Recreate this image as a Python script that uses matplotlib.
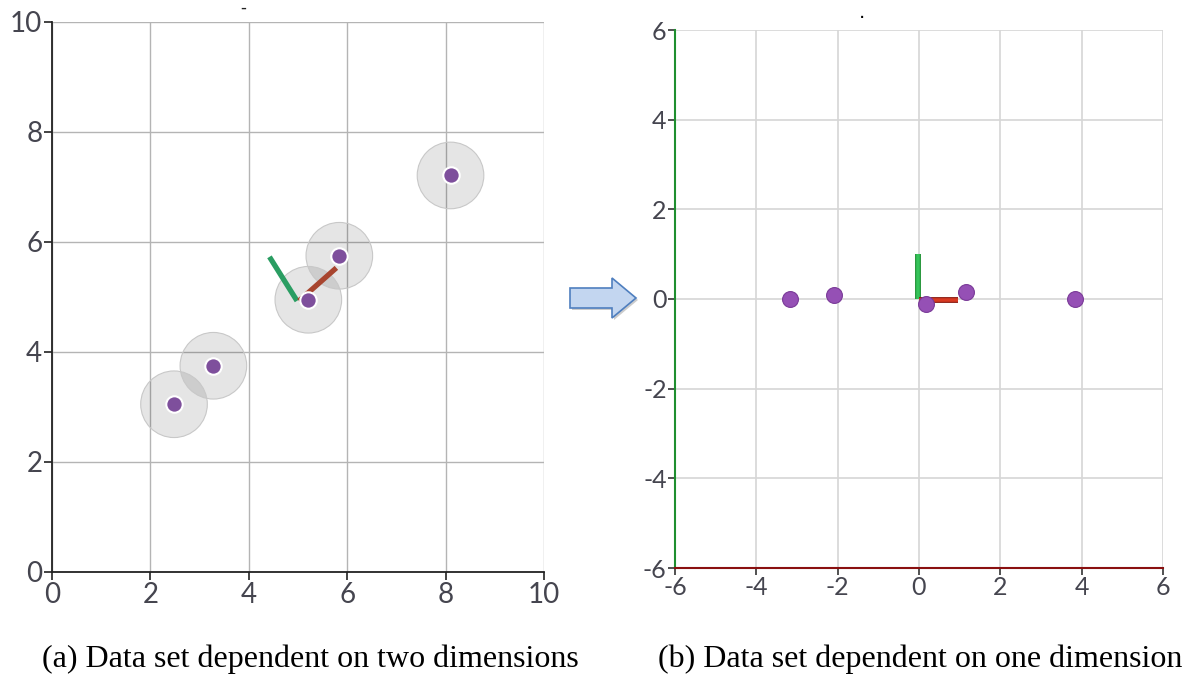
import matplotlib
matplotlib.use("Agg")
import matplotlib.pyplot as plt
import matplotlib.patches as mpatches
import numpy as np

plt.rcParams["axes.unicode_minus"] = False

# ---- data (left: 2-D data set) ----
left_x = [2.48, 3.28, 5.21, 5.84, 8.10]
left_y = [3.05, 3.75, 4.95, 5.75, 7.21]
pc1_line_x = [5.02, 5.78]   # red principal axis
pc1_line_y = [4.93, 5.53]
pc2_line_x = [4.98, 4.42]   # green principal axis
pc2_line_y = [4.93, 5.73]
left_ticks = [0, 2, 4, 6, 8, 10]

# ---- data (right: projected data set) ----
right_x = [-3.17, -2.10, 0.17, 1.15, 3.83]
right_y = [0.00, 0.08, -0.11, 0.16, 0.00]
axis_red_x = [0.0, 0.97]
axis_red_y = [-0.02, -0.02]
axis_green_x = [-0.03, -0.03]
axis_green_y = [0.0, 1.0]
right_ticks = [-6, -4, -2, 0, 2, 4, 6]

captions = ["(a) Data set dependent on two dimensions",
            "(b) Data set dependent on one dimension"]

fig = plt.figure(figsize=(11.82, 6.75), dpi=100)
W, H = 1182, 675

def ax_rect(l, r, t, b):
    return [l / W, (H - b) / H, (r - l) / W, (b - t) / H]

tick_color = "#45454f"
font = "Lato"

# ---------------- left ----------------
axL = fig.add_axes(ax_rect(52, 544, 22, 572))
axL.set_xlim(0, 10)
axL.set_ylim(0, 10)
axL.set_xticks(left_ticks)
axL.set_yticks(left_ticks)
axL.grid(True, color="#b4b4b4", lw=1.0)
axL.set_axisbelow(True)
for s in ["top", "right"]:
    axL.spines[s].set_visible(False)
for s in ["left", "bottom"]:
    axL.spines[s].set_color("#222222")
    axL.spines[s].set_linewidth(1.3)
axL.tick_params(length=6, width=1.2, color="#222222", labelcolor=tick_color,
                labelsize=20, pad=1)
for lab in axL.get_xticklabels() + axL.get_yticklabels():
    lab.set_fontfamily(font)
axL.scatter(left_x, left_y, s=2300, color="#000000", alpha=0.10,
            edgecolors="none", zorder=2)
axL.scatter(left_x, left_y, s=2300, facecolors="none", edgecolors="#c8c8c8",
            linewidths=0.8, zorder=2)
axL.plot(pc2_line_x, pc2_line_y, color="#2a9d62", lw=3.8, solid_capstyle="butt", zorder=3)
axL.plot(pc1_line_x, pc1_line_y, color="#a8452f", lw=3.8, solid_capstyle="butt", zorder=3)
axL.scatter(left_x, left_y, s=140, color="#7e4f9c", edgecolors="white",
            linewidths=1.5, zorder=4)

# ---------------- right ----------------
axR = fig.add_axes(ax_rect(675, 1163, 30, 568))
axR.set_xlim(-6, 6)
axR.set_ylim(-6, 6)
axR.set_xticks(right_ticks)
axR.set_yticks(right_ticks)
axR.grid(True, color="#d6d6d6", lw=1.2)
axR.set_axisbelow(True)
for s in ["top", "right"]:
    axR.spines[s].set_visible(False)
axR.spines["left"].set_color("#1f8f2f")
axR.spines["bottom"].set_color("#8a1010")
axR.spines["left"].set_linewidth(1.5)
axR.spines["bottom"].set_linewidth(1.5)
axR.tick_params(length=5, width=1.2, color="#333333", labelcolor=tick_color,
                labelsize=18, pad=1)
for lab in axR.get_xticklabels() + axR.get_yticklabels():
    lab.set_fontfamily(font)
axR.plot(axis_green_x, axis_green_y, color="#1a8f30", lw=4.2, solid_capstyle="butt", zorder=3)
axR.plot(axis_green_x, axis_green_y, color="#36c35a", lw=2.6, solid_capstyle="butt", zorder=3)
axR.plot(axis_red_x, axis_red_y, color="#8a1a10", lw=4.2, solid_capstyle="butt", zorder=3)
axR.plot(axis_red_x, axis_red_y, color="#d83a22", lw=2.6, solid_capstyle="butt", zorder=3)
axR.scatter(right_x, right_y, s=130, color="#9550b5", edgecolors="#7a3a98",
            linewidths=0.8, zorder=4)

# tiny marks above the plots
fig.text(243 / W, 1 - 8 / H, "-", fontsize=12, ha="center", va="center", color="#222222")
fig.text(862 / W, 1 - 12 / H, ".", fontsize=14, ha="center", va="center", color="#000000")

# ---------------- block arrow ----------------
def fx(px):
    return px / W

def fy(py):
    return 1 - py / H

arrow_px = [(570, 288), (612, 288), (612, 278), (636, 298),
            (612, 318), (612, 308), (570, 308)]
shadow = mpatches.Polygon([(fx(x + 2), fy(y + 2)) for x, y in arrow_px],
                          closed=True, transform=fig.transFigure,
                          facecolor="#9a9a9a", edgecolor="none", alpha=0.5)
fig.patches.append(shadow)
arrow = mpatches.Polygon([(fx(x), fy(y)) for x, y in arrow_px],
                         closed=True, transform=fig.transFigure,
                         facecolor="#c3d6f0", edgecolor="#4f7fbf", lw=1.2)
fig.patches.append(arrow)

# ---------------- captions ----------------
fig.text(310 / W, 1 - 659 / H, captions[0], fontsize=23, family="Liberation Serif",
         ha="center", va="center", color="#000000")
fig.text(920 / W, 1 - 659 / H, captions[1], fontsize=23, family="Liberation Serif",
         ha="center", va="center", color="#000000")

fig.savefig("out.png", dpi=100)
